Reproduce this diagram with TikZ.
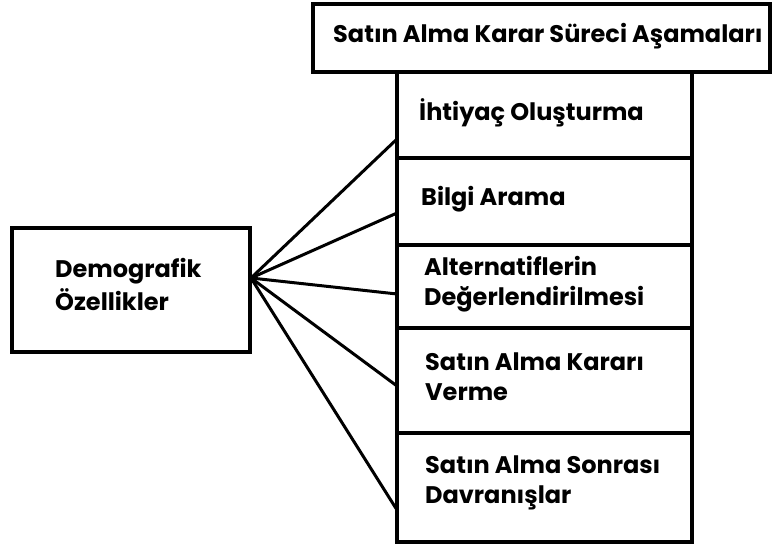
\documentclass[tikz,border=0pt]{standalone}
\usepackage{fontspec}
\setmainfont{Poppins}
\begin{document}
\begin{tikzpicture}[x=1pt,y=-1pt,
  box/.style={draw=black,line width=4pt,rectangle,inner sep=0pt,outer sep=0pt},
  conn/.style={draw=black,line width=3pt},
  lbl/.style={anchor=base west,inner sep=0pt,font=\fontsize{24}{24}\selectfont\bfseries}]
\useasboundingbox (0,0) rectangle (779,549);
\node[box,minimum width=457pt,minimum height=68pt] (top) at (541.5,38) {};
\node[box,minimum width=295pt,minimum height=86pt] (c1) at (544.5,115) {};
\node[box,minimum width=295pt,minimum height=87pt] (c2) at (544.5,201.5) {};
\node[box,minimum width=295pt,minimum height=83pt] (c3) at (544.5,286.5) {};
\node[box,minimum width=295pt,minimum height=105pt] (c4) at (544.5,380.5) {};
\node[box,minimum width=295pt,minimum height=109pt] (c5) at (544.5,487.5) {};
\node[box,minimum width=238pt,minimum height=124pt] (dem) at (131,290) {};
\node[lbl] (ttop) at (333,42) {Satın Alma Karar Süreci Aşamaları};
\node[lbl] (t1) at (419,120) {İhtiyaç Oluşturma};
\node[lbl] (t2) at (421,205) {Bilgi Arama};
\node[lbl] (t3a) at (424,275) {Alternatiflerin};
\node[lbl] (t3b) at (424,305) {Değerlendirilmesi};
\node[lbl] (t4a) at (425,370) {Satın Alma Kararı};
\node[lbl] (t4b) at (425,400) {Verme};
\node[lbl] (t5a) at (425,473) {Satın Alma Sonrası};
\node[lbl] (t5b) at (425,503) {Davranışlar};
\node[lbl] (td1) at (55,277) {Demografik};
\node[lbl] (td2) at (55,310) {Özellikler};
\coordinate (fan) at (251,278);
\coordinate (e1) at (397,139);
\coordinate (e2) at (397,213);
\coordinate (e3) at (397,294);
\coordinate (e4) at (397,386);
\coordinate (e5) at (397,510);
\foreach \e in {e1,e2,e3,e4,e5} \draw[conn] (fan) -- (\e);
\end{tikzpicture}
\end{document}
